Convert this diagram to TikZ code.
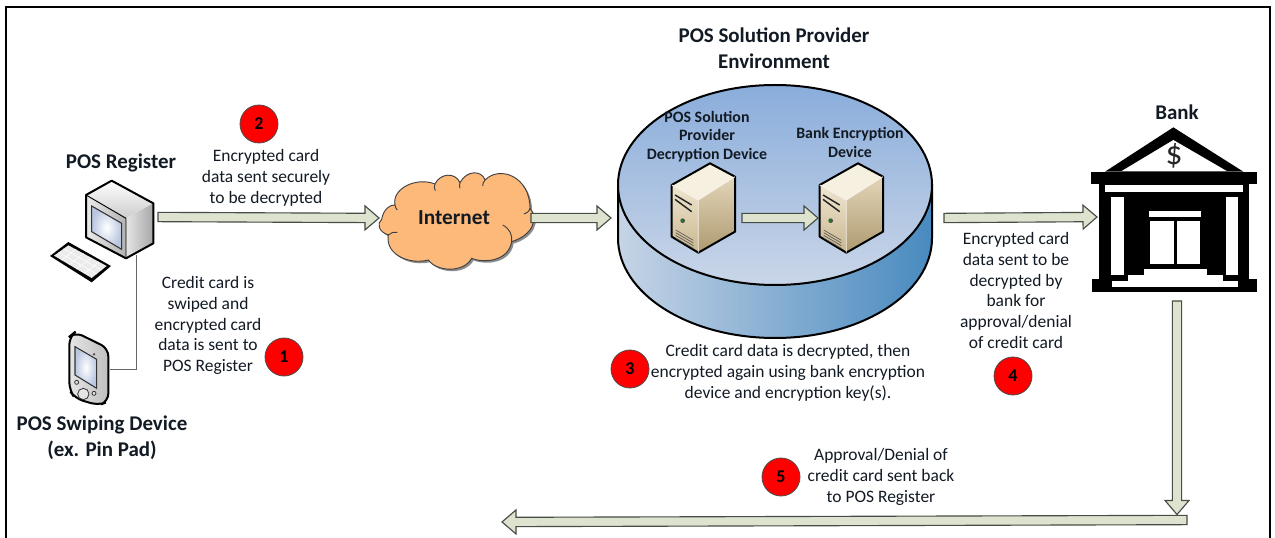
\documentclass[tikz,border=0pt]{standalone}
\usepackage{fontspec}
\setmainfont{Carlito}
\usetikzlibrary{calc}
\definecolor{txt}{HTML}{121A24}
\definecolor{arrowfill}{HTML}{DDE3CE}
\definecolor{arrowline}{HTML}{454D45}
\definecolor{discTop}{HTML}{8AADDB}
\definecolor{discBottom}{HTML}{CAD6E8}
\definecolor{sideLeft}{HTML}{C6D4E6}
\definecolor{sideRight}{HTML}{488ABF}
\definecolor{cloudFill}{HTML}{FDB97A}
\definecolor{srvTop}{HTML}{F6F0E0}
\definecolor{srvFrontA}{HTML}{EFE6D0}
\definecolor{srvFrontB}{HTML}{C9B68E}
\definecolor{srvSideA}{HTML}{E2D5B8}
\definecolor{srvSideB}{HTML}{AE9A70}
\definecolor{screenEdge}{HTML}{B9C6E0}
\tikzset{
  blockarrow/.style={draw=arrowline,fill=arrowfill,line width=.85pt,line join=miter,
    to path={
      -- ($(\tikztostart)!3.5pt!90:(\tikztotarget)$)
      -- ($($(\tikztotarget)!10.5pt!(\tikztostart)$)!3.5pt!90:(\tikztotarget)$)
      -- ($($(\tikztotarget)!10.5pt!(\tikztostart)$)!9pt!90:(\tikztotarget)$)
      -- (\tikztotarget)
      -- ($($(\tikztotarget)!10.5pt!(\tikztostart)$)!9pt!-90:(\tikztotarget)$)
      -- ($($(\tikztotarget)!10.5pt!(\tikztostart)$)!3.5pt!-90:(\tikztotarget)$)
      -- ($(\tikztostart)!3.5pt!-90:(\tikztotarget)$)
      -- cycle}},
  holder/.style={inner sep=0pt,outer sep=0pt,minimum height=2pt},
  note/.style={text=txt,align=center,inner sep=0pt,font=\fontsize{13.1}{15.7}\selectfont},
  heading/.style={text=txt,align=center,inner sep=0pt,font=\fontsize{15.7}{19.5}\selectfont\bfseries},
  inner heading/.style={text=txt,align=center,inner sep=0pt,font=\fontsize{11.9}{14}\selectfont\bfseries},
  badge/.style={circle,draw=black!70,fill=red,line width=.6pt,minimum size=28.5pt,inner sep=0pt,text=black,font=\fontsize{13.5}{13.5}\selectfont\bfseries},
  icon line/.style={draw=black,line width=1.5pt,line join=round},
}
\newcommand\serverIcon[1]{%
\begin{scope}[shift={(#1,80)},x=.25pt,y=-.25pt]
  \fill[srvTop] (245,315)--(360,250)--(435,290)--(325,360)--cycle;
  \shade[top color=srvFrontA,bottom color=srvFrontB] (245,315)--(325,360)--(325,518)--(245,470)--cycle;
  \shade[top color=srvSideA,bottom color=srvSideB] (325,360)--(435,290)--(435,455)--(325,518)--cycle;
  \draw[icon line] (245,315)--(360,250)--(435,290)--(435,455)--(325,518)--(245,470)--cycle;
  \draw[draw=white!90!brown,line width=.6pt] (245,315)--(325,360)--(435,290) (325,360)--(325,518);
  \draw[black!85,line width=1.1pt] (255,345)--(305,375) (255,358)--(305,395);
  \fill[black!70] (278,422) circle[radius=7];
  \fill[green!60!black] (278,422) circle[radius=3.5];
  \foreach \d in {0,8,16,24}
    \draw[black!65,line width=.5pt] (257,450+\d)--(310,481+\d);
\end{scope}}
\newcommand\cloudShape{
  (65,178) .. controls (70,145) and (95,133) .. (105,135)
  .. controls (95,85) and (170,50) .. (225,72)
  .. controls (240,40) and (285,35) .. (300,68)
  .. controls (320,30) and (365,30) .. (375,60)
  .. controls (420,15) and (510,50) .. (510,145)
  .. controls (535,175) and (520,225) .. (455,245)
  .. controls (445,305) and (370,310) .. (335,295)
  .. controls (310,340) and (230,335) .. (205,300)
  .. controls (150,315) and (75,285) .. (85,225)
  .. controls (55,215) and (50,190) .. cycle}
\begin{document}
\begin{tikzpicture}[x=.75pt,y=-.75pt]
\useasboundingbox (0,0) rectangle (1275,538);
\fill[white] (0,0) rectangle (1275,538);
\draw[black,line width=1.5pt] (6,538)--(6,7)--(1270,7)--(1270,538);

% holders the connectors attach to
\node[holder,minimum width=54pt] (register) at (122,217) {};
\node[holder,minimum width=249.75pt] (cylinder) at (777.5,218) {};
\node[holder,minimum width=58.5pt] (serverA) at (703,218) {};
\node[holder,minimum width=57pt] (serverB) at (856,218) {};
\node[holder,minimum width=120pt,minimum height=126pt] (bank) at (1177,217) {};
\coordinate (cloudIn) at (379,218);
\coordinate (turn) at (1177,514.5);
\coordinate (returnStart) at (1187,520);
\coordinate (returnEnd) at (502,522);
\coordinate (regPort) at (136.7,255);
\coordinate (padCorner) at (136.7,369.5);
\coordinate (padPort) at (110,369.5);

% POS register
\begin{scope}[shift={(0,130)},x=.25pt,y=-.25pt]
  \shade[top color=white,bottom color=black!20] (258,195)--(335,152)--(460,220)--(378,265)--cycle;
  \shade[left color=black!8,right color=black!30] (258,195)--(378,265)--(378,385)--(258,322)--cycle;
  \shade[left color=black!10,right color=black!35] (378,265)--(460,220)--(460,340)--(378,385)--cycle;
  \draw[icon line] (258,195)--(335,152)--(460,220)--(460,340)--(378,385)--(258,322)--cycle;
  \draw[black,line width=.7pt] (258,195)--(378,265)--(378,385);
  \draw[black!80,line width=.8pt,inner color=white,outer color=screenEdge] (275,228)--(365,280)--(365,358)--(275,305)--cycle;
  % keyboard
  \fill[black] (150,378)--(205,336)--(333,408)--(275,457)--cycle;
  \fill[black!8] (162,377)--(205,346)--(320,408)--(275,444)--cycle;
  \foreach \t in {.2,.4,.6,.8}
    \draw[white,line width=.4pt] ($(162,377)!\t!(275,444)$)--($(205,346)!\t!(320,408)$);
  \foreach \t in {.33,.66}
    \draw[white,line width=.4pt] ($(162,377)!\t!(205,346)$)--($(275,444)!\t!(320,408)$);
  % swiping device
  \shade[left color=black!10,right color=black!25,draw=black,line width=1.5pt,rounded corners=6pt]
    (208,620)--(225,606)--(325,655)--(325,815)--(295,826)--(225,805)--(208,780)--cycle;
  \draw[black!80,line width=.8pt,inner color=white,outer color=screenEdge] (225,650)--(290,688)--(290,775)--(225,735)--cycle;
  \fill[black!70] (282,673) circle[radius=4];
  \draw[black!80,line width=.6pt,fill=black!10] (250,792) circle[radius=17] (230,757) circle[radius=6] (282,790) circle[radius=6];
\end{scope}
\draw[black!60,line width=1.1pt] (regPort)--(padCorner)--(padPort);

% Internet cloud
\begin{scope}[shift={(362,162)},x=.25pt,y=-.25pt]
  \fill[black!45] \cloudShape;
\end{scope}
\begin{scope}[shift={(360,160)},x=.25pt,y=-.25pt]
  \filldraw[fill=cloudFill,draw=black!75,line width=.7pt] \cloudShape;
  \draw[black!75,line width=.7pt] (225,72) .. controls (222,80) and (222,85) .. (226,92)
    (300,68) .. controls (298,75) and (298,80) .. (300,85)
    (375,60) .. controls (370,66) and (368,72) .. (368,78)
    (510,145) .. controls (507,155) and (500,160) .. (492,162)
    (455,245) .. controls (458,225) and (448,205) .. (428,195)
    (85,225) .. controls (92,218) and (100,216) .. (112,217)
    (105,135) .. controls (106,142) and (108,146) .. (112,150);
\end{scope}
\node[holder,minimum width=115.5pt,text=txt,font=\fontsize{16}{18}\selectfont\bfseries] (cloud) at (454,218) {Internet};

% Cylinder
\draw[left color=sideLeft,right color=sideRight,draw=black,line width=1.5pt]
  (618,185) -- (618,238) arc[start angle=180,end angle=0,x radius=157,y radius=100] -- (932,185) -- cycle;
\shade[top color=discTop,bottom color=discBottom] (775,185) ellipse[x radius=157,y radius=100];
\draw[black,line width=1.5pt] (775,185) ellipse[x radius=157,y radius=100];

\serverIcon{590}
\serverIcon{738}

% connectors
\draw[blockarrow] (register.east) to (cloudIn);
\draw[blockarrow] (cloud.east) to (cylinder.west);
\draw[blockarrow] (serverA.east) to (serverB.west);
\draw[blockarrow] (cylinder.east) to (bank.west);
\draw[blockarrow] (bank.south) to (turn);
\draw[blockarrow] (returnStart) to (returnEnd);

% Bank
\begin{scope}[shift={(1050,90)},x=.25pt,y=-.25pt]
  \fill[black] (165,245)--(370,112)--(580,245)--cycle;
  \fill[white] (215,243)--(370,150)--(530,243)--cycle;
  \fill[black] (123,245) rectangle (622,282);
  \fill[black] (148,282) rectangle (598,575);
  \fill[white] (165,285) rectangle (578,307);
  \fill[white] (184,322) rectangle (222,555);
  \fill[white] (528,322) rectangle (565,555);
  \fill[white] (297,364) rectangle (452,382);
  \fill[white] (299,393) rectangle (372,522);
  \fill[white] (380,393) rectangle (450,522);
  \fill[black] (127,568) rectangle (622,605);
  \fill[white] (282,538) rectangle (470,556);
  \fill[white] (233,555) rectangle (520,573);
  \fill[white] (187,572) rectangle (563,590);
\end{scope}
\node[inner sep=0pt,text=black!85,font=\fontsize{25}{25}\selectfont] (dollar) at (1174,156) {\$};

% headings
\node[heading] (hRegister) at (121,162.5) {POS Register};
\node[heading] (hPad) at (102,437.5) {POS Swiping Device\\(ex. Pin Pad)};
\node[heading] (hProvider) at (774,48) {POS Solution Provider\\Environment};
\node[heading] (hBank) at (1177,112) {Bank};
\node[inner heading] (hDecrypt) at (707,136.5) {POS Solution\\Provider\\Decryption Device};
\node[inner heading] (hEncrypt) at (850,142.5) {Bank Encryption\\Device};

% notes
\node[note] (n2) at (266,177.5) {Encrypted card\\data sent securely\\to be decrypted};
\node[note] (n1) at (208,325.5) {Credit card is\\swiped and\\encrypted card\\data is sent to\\POS Register};
\node[note] (n3) at (788,373) {Credit card data is decrypted, then\\encrypted again using bank encryption\\device and encryption key(s).};
\node[note] (n4) at (1016,290.5) {Encrypted card\\data sent to be\\decrypted by\\bank for\\approval/denial\\of credit card};
\node[note] (n5) at (881,477) {Approval/Denial of\\credit card sent back\\to POS Register};

% badges
\node[badge] (b1) at (284,357) {1};
\node[badge] (b2) at (259,124) {2};
\node[badge] (b3) at (630,369) {3};
\node[badge] (b4) at (1013,376) {4};
\node[badge] (b5) at (781,477) {5};
\end{tikzpicture}
\end{document}
